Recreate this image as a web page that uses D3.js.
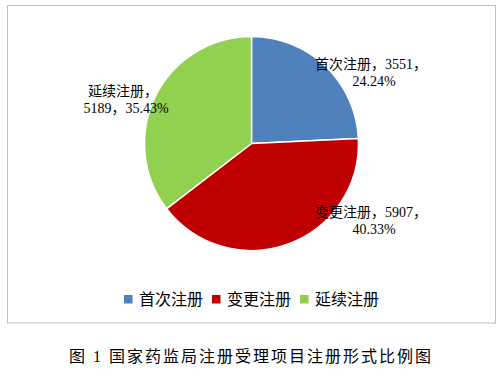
<!DOCTYPE html>
<html>
<head>
<meta charset="utf-8">
<script src="https://cdn.jsdelivr.net/npm/d3@7/dist/d3.min.js"></script>
<style>
  html, body { margin: 0; padding: 0; background: #fff; }
  svg { display: block; }
  .lbl { font-family: "Liberation Serif", "Times New Roman", "Noto Sans CJK SC", serif; font-size: 14px; fill: #000; }
  .leg { font-family: "Noto Sans CJK SC", sans-serif; font-size: 16px; fill: #000; }
  .cap { font-family: "Liberation Serif", "Noto Sans CJK SC", serif; font-size: 16px; fill: #000; letter-spacing: 2px; }
</style>
</head>
<body>
<svg id="chart" width="503" height="378"></svg>
<script>
// Registration forms and their counts / shares
const categories = ["首次注册", "变更注册", "延续注册"];
const counts = [3551, 5907, 5189];
const percents = ["24.24%", "40.33%", "35.43%"];
const colors = ["#4F81BD", "#C00000", "#92D050"];
const caption = "图 1 国家药监局注册受理项目注册形式比例图";

// Data label lines for each slice
const labelLines = [
  [categories[0] + "，" + counts[0] + "，", percents[0]],
  [categories[1] + "，" + counts[1] + "，", percents[1]],
  [categories[2] + "，", counts[2] + "，" + percents[2]]
];

const svg = d3.select("#chart");

// chart frame
svg.append("rect")
  .attr("x", 7.5).attr("y", 5.5)
  .attr("width", 488).attr("height", 317.5)
  .attr("fill", "#fff")
  .attr("stroke", "#BFBFBF").attr("stroke-width", 1);

const cx = 251.5, cy = 143.5, R = 107;

const pie = d3.pie().sort(null).value(d => d);
const arcs = pie(counts);
const arc = d3.arc().innerRadius(0).outerRadius(R);

const g = svg.append("g").attr("transform", `translate(${cx},${cy})`);
g.selectAll("path.slice")
  .data(arcs)
  .join("path")
  .attr("class", "slice")
  .attr("d", arc)
  .attr("fill", (d, i) => colors[i])
  .attr("stroke", "#fff")
  .attr("stroke-width", 1.5)
  .attr("stroke-linejoin", "round");

// data label anchors (centre of each text block)
const labelAt = [
  { x: 371, y: 64 },
  { x: 371, y: 212 },
  { x: 123, y: 91 }
];
const lineH = 17;
arcs.forEach((d, i) => {
  const t = svg.append("text")
    .attr("class", "lbl")
    .attr("text-anchor", "middle")
    .attr("x", labelAt[i].x)
    .attr("y", labelAt[i].y);
  labelLines[i].forEach((s, k) => {
    t.append("tspan")
      .attr("x", labelAt[i].x + (k === 1 ? 3 : 0))
      .attr("dy", k === 0 ? "0.35em" : lineH)
      .text(s);
  });
});

// legend
const legX = [124, 212, 300];
const legY = 299;
const leg = svg.append("g");
categories.forEach((c, i) => {
  leg.append("rect")
    .attr("x", legX[i]).attr("y", legY - 4)
    .attr("width", 8.5).attr("height", 8.5)
    .attr("fill", colors[i]);
  leg.append("text")
    .attr("class", "leg")
    .attr("x", legX[i] + 15)
    .attr("y", legY)
    .attr("dy", "0.36em")
    .text(c);
});

// figure caption
svg.append("text")
  .attr("class", "cap")
  .attr("x", 69)
  .attr("y", 362)
  .text(caption);
</script>
</body>
</html>
